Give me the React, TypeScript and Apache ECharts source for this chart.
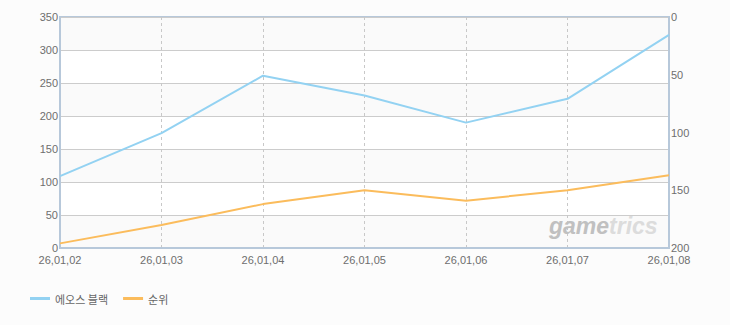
import React, { useEffect, useRef } from "react";
import * as echarts from "echarts";

const categories = ["26,01,02", "26,01,03", "26,01,04", "26,01,05", "26,01,06", "26,01,07", "26,01,08"];
const userValues = [109, 174, 261, 231, 190, 226, 323];
const rankValues = [196, 180, 162, 150, 159, 150, 137];
const seriesNames = ["에오스 블랙", "순위"];

export default function App() {
  const ref = useRef<HTMLDivElement>(null);
  useEffect(() => {
    document.body.style.margin = "0";
    const chart = echarts.init(ref.current!, undefined, { renderer: "svg" });
    const font = "'Liberation Sans', Arial, sans-serif";
    chart.setOption({
      animation: false,
      backgroundColor: "#fcfcfc",
      grid: {
        left: 60,
        right: 61,
        top: 17,
        bottom: 77,
        show: true,
        borderColor: "#b7c8da",
        borderWidth: 2,
        backgroundColor: "transparent",
      },
      legend: {
        left: 25,
        top: 288,
        icon: "rect",
        itemWidth: 20,
        itemHeight: 3,
        itemGap: 15,
        textStyle: { fontFamily: "'Noto Sans CJK KR', sans-serif", fontSize: 11, color: "#666" },
        data: seriesNames,
      },
      xAxis: {
        type: "category",
        data: categories,
        boundaryGap: false,
        axisLine: { show: true, lineStyle: { color: "#b7c8da", width: 2 } },
        axisTick: { show: false },
        axisLabel: { color: "#6e6e6e", fontFamily: font, fontSize: 11, margin: 6, interval: 0 },
        splitLine: { show: true, lineStyle: { color: "#c8c8c8", type: [3, 3], width: 1 } },
      },
      yAxis: [
        {
          type: "value",
          min: 0,
          max: 350,
          interval: 50,
          axisLine: { show: true, lineStyle: { color: "#b7c8da", width: 2 } },
          axisTick: { show: false },
          axisLabel: { color: "#6e6e6e", fontFamily: font, fontSize: 11, margin: 2 },
          splitLine: { show: true, lineStyle: { color: "#cccccc", width: 1 } },
          splitArea: { show: true, areaStyle: { color: ["#fafafa", "#ffffff"] } },
        },
        {
          type: "value",
          min: 0,
          max: 200,
          interval: 50,
          inverse: true,
          position: "right",
          axisLine: { show: true, lineStyle: { color: "#b7c8da", width: 2 } },
          axisTick: { show: false },
          axisLabel: { color: "#6e6e6e", fontFamily: font, fontSize: 11, margin: 2 },
          splitLine: { show: false },
        },
      ],
      graphic: [
        {
          type: "text",
          left: 549,
          top: 214,
          z: 1,
          style: {
            text: "{a|game}{b|trics}",
            rich: {
              a: { fill: "#c0c0c0", fontSize: 23, fontWeight: "bold", fontStyle: "italic", fontFamily: font },
              b: { fill: "#dcdcdc", fontSize: 23, fontWeight: "bold", fontStyle: "italic", fontFamily: font },
            },
          },
        },
      ],
      series: [
        {
          name: seriesNames[0],
          type: "line",
          data: userValues,
          yAxisIndex: 0,
          symbol: "none",
          lineStyle: { color: "#93d2f2", width: 2 },
          itemStyle: { color: "#93d2f2" },
          z: 3,
        },
        {
          name: seriesNames[1],
          type: "line",
          data: rankValues,
          yAxisIndex: 1,
          symbol: "none",
          lineStyle: { color: "#fbbc5c", width: 2 },
          itemStyle: { color: "#fbbc5c" },
          z: 3,
        },
      ],
    });
    return () => chart.dispose();
  }, []);
  return <div ref={ref} style={{ width: 730, height: 325 }} />;
}
